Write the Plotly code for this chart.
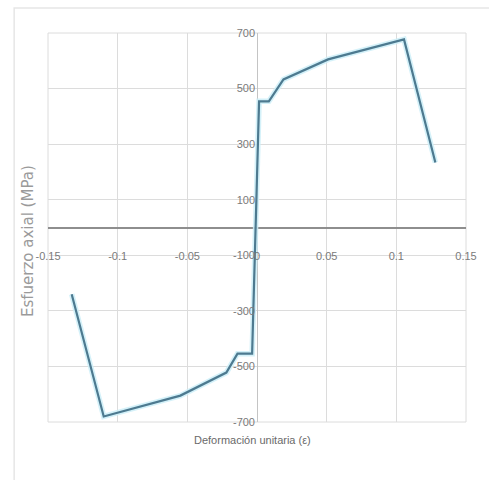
import plotly.graph_objects as go

# Data
strain = [-0.133, -0.110, -0.055, -0.022, -0.014, -0.0035, 0.0015, 0.0085, 0.019, 0.051, 0.1055, 0.128]
stress = [-240, -680, -605, -522, -454, -454, 454, 454, 533, 605, 677, 234]

x_ticks = [-0.15, -0.1, -0.05, 0, 0.05, 0.1, 0.15]
x_ticktext = ["-0.15", "-0.1", "-0.05", "0", "0.05", "0.1", "0.15"]
y_ticks = [-700, -500, -300, -100, 100, 300, 500, 700]
y_ticktext = ["-700", "-500", "-300", "-100", "100", "300", "500", "700"]

x_title = "Deformación unitaria (ε)"
y_title = "Esfuerzo axial (MPa)"

tick_font = dict(family="Liberation Sans Narrow, Liberation Sans, Arial", size=11, color="#7a7a7a")

fig = go.Figure()
# soft glow under the line
fig.add_trace(go.Scatter(x=strain, y=stress, mode="lines",
                         line=dict(color="rgba(205,238,248,0.85)", width=5.5),
                         hoverinfo="skip", showlegend=False))
fig.add_trace(go.Scatter(x=strain, y=stress, mode="lines",
                         line=dict(color="#4d7a90", width=2.2),
                         showlegend=False))

fig.update_layout(
    width=489, height=480,
    margin=dict(l=48, r=19, t=33, b=58),
    paper_bgcolor="white", plot_bgcolor="white",
    xaxis=dict(range=[-0.15, 0.15], tickvals=x_ticks, ticktext=x_ticktext,
               showgrid=True, gridcolor="#dcdcdc", gridwidth=1,
               zeroline=True, zerolinecolor="#c4c4c4", zerolinewidth=1.2,
               anchor="free", position=0.5, showline=False,
               ticks="", tickfont=tick_font, ticklabelstandoff=20),
    yaxis=dict(range=[-700, 700], tickvals=y_ticks, ticktext=y_ticktext,
               showgrid=True, gridcolor="#dcdcdc", gridwidth=1,
               zeroline=True, zerolinecolor="#8e8e8e", zerolinewidth=2,
               anchor="free", position=0.5, showline=False,
               ticks="", tickfont=tick_font, ticklabelstandoff=2),
    annotations=[
        dict(text=x_title, xref="paper", yref="paper", x=0.49, y=-0.047,
             xanchor="center", yanchor="middle", showarrow=False,
             font=dict(family="Liberation Sans Narrow, Liberation Sans, Arial", size=11, color="#6a6a6a")),
        dict(text=y_title, xref="paper", yref="paper", x=-0.048, y=0.465,
             xanchor="center", yanchor="middle", textangle=-90, showarrow=False,
             font=dict(family="DejaVu Sans, Verdana", size=15, color="#9a9a9a")),
    ],
    shapes=[
        dict(type="rect", xref="paper", yref="paper", x0=-0.081, y0=-0.2, x1=1.2, y1=1.064,
             line=dict(color="#e6e6e6", width=1.5), fillcolor="rgba(0,0,0,0)", layer="below"),
        dict(type="rect", xref="paper", yref="paper", x0=0, y0=0, x1=1, y1=1,
             line=dict(color="#dcdcdc", width=1), fillcolor="rgba(0,0,0,0)", layer="below"),
    ],
)

fig.write_html("out.html")
